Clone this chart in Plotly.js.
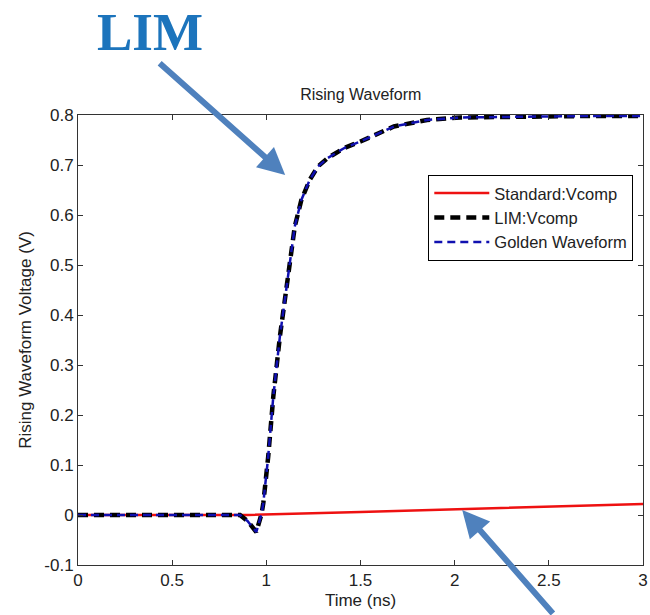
<!DOCTYPE html>
<html>
<head>
<meta charset="utf-8">
<script src="https://cdn.plot.ly/plotly-3.0.1.min.js"></script>
<style>html,body{margin:0;padding:0;background:#fff;}#chart{width:650px;height:615px;}</style>
</head>
<body>
<div id="chart"></div>
<script>
// Golden / LIM waveform (ns, V)
const timeGolden = [0, 0.2, 0.4, 0.6, 0.8, 0.86, 0.9, 0.947, 0.975, 0.984, 1.01, 1.037, 1.072, 1.116, 1.151, 1.186, 1.23, 1.274, 1.326, 1.414, 1.5, 1.677, 1.853, 2.03, 2.38, 2.7, 3.0];
const voltGolden = [0, 0, 0, 0, 0, 0, -0.012, -0.034, 0.003, 0.024, 0.117, 0.237, 0.357, 0.484, 0.577, 0.63, 0.67, 0.697, 0.714, 0.734, 0.747, 0.777, 0.79, 0.795, 0.797, 0.798, 0.798];
const voltLIM = [0, 0, 0, 0, 0, 0, -0.012, -0.034, 0.003, 0.024, 0.117, 0.237, 0.357, 0.484, 0.577, 0.63, 0.67, 0.697, 0.714, 0.734, 0.747, 0.777, 0.79, 0.795, 0.797, 0.798, 0.798];
// Standard waveform
const timeStd = [0, 0.9, 1.5, 2.0, 2.5, 3.0];
const voltStd = [0, 0, 0.006, 0.011, 0.016, 0.022];

const xTicks = [0, 0.5, 1, 1.5, 2, 2.5, 3];
const xTickLabels = ['0', '0.5', '1', '1.5', '2', '2.5', '3'];
const yTicks = [-0.1, 0, 0.1, 0.2, 0.3, 0.4, 0.5, 0.6, 0.7, 0.8];
const yTickLabels = ['-0.1', '0', '0.1', '0.2', '0.3', '0.4', '0.5', '0.6', '0.7', '0.8'];

const traces = [
  {x: timeStd, y: voltStd, mode: 'lines', name: 'Standard:Vcomp',
   line: {color: '#ee1111', width: 2.5}},
  {x: timeGolden, y: voltLIM, mode: 'lines', name: 'LIM:Vcomp',
   line: {color: '#000000', width: 4.5, dash: '10px,6px'}},
  {x: timeGolden, y: voltGolden, mode: 'lines', name: 'Golden Waveform',
   line: {color: '#1010b0', width: 2.5, dash: '8px,5px'}}
];

const fontFam = 'Arial, Liberation Sans, sans-serif';
const axisCommon = {
  showgrid: false, zeroline: false, showline: true, mirror: 'ticks',
  linecolor: '#333', linewidth: 1, ticks: 'inside', ticklen: 5, tickcolor: '#333',
  ticklabeloverflow: 'allow',
  tickfont: {family: fontFam, size: 17, color: '#222'}
};

const layout = {
  width: 650, height: 615,
  margin: {l: 78, r: 7, t: 115, b: 50},
  paper_bgcolor: '#fff', plot_bgcolor: '#fff',
  font: {family: fontFam, color: '#222'},
  title: {text: 'Rising Waveform', font: {size: 16, color: '#222'},
          x: 0.555, xanchor: 'center', y: 0.846, yanchor: 'middle'},
  xaxis: Object.assign({}, axisCommon, {
    range: [0, 3], tickvals: xTicks, ticktext: xTickLabels,
    title: {text: 'Time (ns)', font: {size: 17, color: '#222'}, standoff: 4}
  }),
  yaxis: Object.assign({}, axisCommon, {
    range: [-0.1, 0.8], tickvals: yTicks, ticktext: yTickLabels,
    title: {text: 'Rising Waveform Voltage (V)', font: {size: 17, color: '#222'}, standoff: 8}
  }),
  showlegend: true,
  legend: {x: 0.62, y: 0.867, xanchor: 'left', yanchor: 'top',
           bgcolor: '#fff', bordercolor: '#000', borderwidth: 1,
           font: {size: 16.5, color: '#222'}, itemwidth: 55, tracegroupgap: 0},
  annotations: [
    {xref: 'paper', yref: 'paper', x: 0.127, y: 1.184, text: '<b>LIM</b>', showarrow: false,
     font: {family: 'Liberation Serif, DejaVu Serif, serif', size: 53, color: '#1C74BC'},
     xanchor: 'center', yanchor: 'middle'},
    {xref: 'x', yref: 'y', x: 1.1, y: 0.68, text: '', showarrow: true,
     ax: -127, ay: -113, arrowcolor: '#4F81BD', arrowwidth: 6, arrowhead: 2, arrowsize: 0.9},
    {xref: 'x', yref: 'y', x: 2.04, y: 0.01, text: '', showarrow: true,
     ax: 92, ay: 112, arrowcolor: '#4F81BD', arrowwidth: 6, arrowhead: 2, arrowsize: 0.9}
  ]
};

Plotly.newPlot('chart', traces, layout, {displayModeBar: false, staticPlot: true});
</script>
</body>
</html>
